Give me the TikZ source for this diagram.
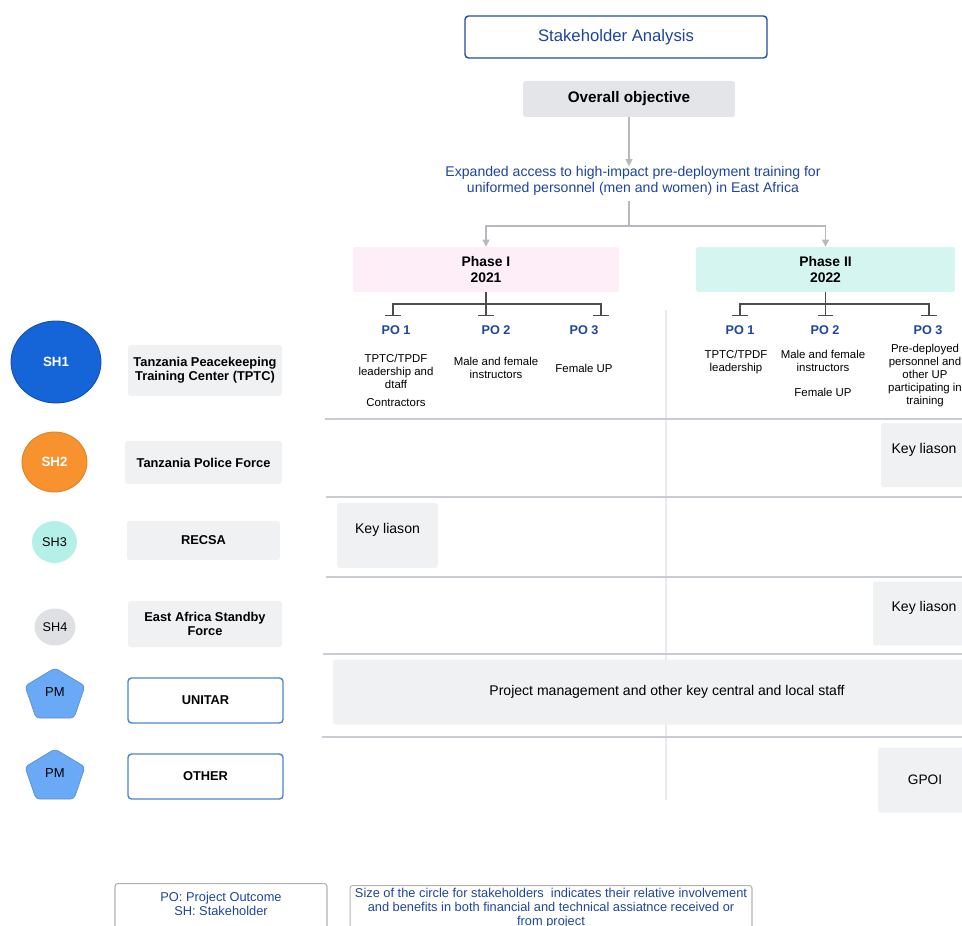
\documentclass[tikz,border=0pt]{standalone}
\usepackage{fontspec}
\setmainfont{Liberation Sans}
\usetikzlibrary{positioning,arrows.meta,shapes.geometric}

\definecolor{titleblue}{HTML}{1F4EA6}
\definecolor{textblue}{HTML}{1C45A0}
\definecolor{boxgray}{HTML}{F0F1F3}
\definecolor{objgray}{HTML}{E3E5E9}
\definecolor{phasepink}{HTML}{FDEEF8}
\definecolor{phasecyan}{HTML}{D5F6F0}
\definecolor{shblue}{HTML}{1565D8}
\definecolor{shorange}{HTML}{F7922F}
\definecolor{shcyan}{HTML}{B5F0E8}
\definecolor{shgray}{HTML}{DEE0E4}
\definecolor{pmblue}{HTML}{6AA9F6}
\definecolor{orgblue}{HTML}{4A85D0}
\definecolor{rulegray}{HTML}{C9CDD3}
\definecolor{linkgray}{HTML}{B5B8BE}

\newcommand\fsz[2]{\fontsize{#1}{#2}\selectfont}

\begin{document}
\begin{tikzpicture}[x=0.02cm,y=-0.02cm,>={Triangle[width=4pt,length=4pt]},
  titlebox/.style={draw=titleblue,line width=0.8pt,rounded corners=2pt,text=textblue,font=\fsz{9.5}{11}},
  graybox/.style={fill=boxgray,rounded corners=1.5pt,align=center,inner sep=0pt},
  phasebox/.style={rounded corners=1.5pt,align=center,inner sep=0pt,font=\bfseries\fsz{7.9}{8.6}},
  po/.style={text=textblue,font=\bfseries\fsz{7.2}{8.4},inner sep=0pt},
  cell/.style={font=\fsz{6.5}{7.4},align=center,inner sep=0pt},
  shlabel/.style={graybox,font=\bfseries\fsz{7.3}{8}},
  orgbox/.style={draw=orgblue,line width=0.8pt,rounded corners=2pt,fill=white,inner sep=0pt,font=\bfseries\fsz{7.3}{8}},
  keybox/.style={graybox,font=\fsz{8}{9.6},text depth=0.28cm},
  shnode/.style={ellipse,inner sep=0pt,line width=0.5pt},
  pmshape/.style={fill=pmblue,draw=pmblue!85!black,line width=0.4pt,rounded corners=2pt},
  link/.style={draw=linkgray,line width=0.6pt},
  tree/.style={draw=black!70,line width=0.7pt},
  rowline/.style={draw=rulegray,line width=1.1pt},
  legbox/.style={draw=black!30,line width=0.6pt,rounded corners=1.5pt,inner sep=0pt},
  legtext/.style={text=textblue,font=\fsz{7.3}{7.9},align=center,inner sep=0pt}]

\useasboundingbox (0,0) rectangle (962,925);

% header and objective
\node[titlebox, minimum width=6.04cm, minimum height=0.84cm] (title) at (616,37) {Stakeholder Analysis};
\node[graybox, fill=objgray, font=\bfseries\fsz{8.7}{10}, minimum width=4.24cm, minimum height=0.72cm] (obj) at (629,99) {Overall objective};
\node[text=textblue, font=\fsz{8}{9}, align=center, inner sep=0pt] (goal) at (633,181)
  {Expanded access to high-impact pre-deployment training for\\uniformed personnel (men and women) in East Africa};
\draw[link,->] (obj) -- (obj |- goal.north);

\node[phasebox, fill=phasepink, minimum width=5.32cm, minimum height=0.9cm] (ph1) at (486,269.5) {Phase I\\2021};
\node[phasebox, fill=phasecyan, minimum width=5.18cm, minimum height=0.9cm] (ph2) at (825.5,269.5) {Phase II\\2022};

\coordinate (fork) at (629,226);
\draw[link] ([yshift=-3pt]goal.south -| obj) -- (fork);
\draw[link,->] (fork) -| (ph1);
\draw[link,->] (fork) -| (ph2);

% outcome trees
\coordinate (j1) at (486,304);
\coordinate (j2) at (825.5,304);
\coordinate (s11) at (393,316);
\coordinate (s12) at (486,316);
\coordinate (s13) at (601,316);
\coordinate (s21) at (740,316);
\coordinate (s22) at (825.5,316);
\coordinate (s23) at (929,316);
\draw[tree] (ph1) -- (j1);
\draw[tree] (ph2) -- (j2);
\foreach \s in {s11,s12,s13}
  \draw[tree,-{Bar[width=9pt]}] (j1) -| (\s);
\foreach \s in {s21,s22,s23}
  \draw[tree,-{Bar[width=9pt]}] (j2) -| (\s);

\node[po] (p11) at (396,330) {PO 1};
\node[po] (p12) at (496,330) {PO 2};
\node[po] (p13) at (584,330) {PO 3};
\node[po] (p21) at (740,330) {PO 1};
\node[po] (p22) at (825,330) {PO 2};
\node[po] (p23) at (928,330) {PO 3};

\node[cell] (c11) at (396,371.5) {TPTC/TPDF\\leadership and\\dtaff};
\node[cell] (c11b) at (396,403) {Contractors};
\node[cell] (c12) at (496,368) {Male and female\\instructors};
\node[cell] (c13) at (584,368) {Female UP};
\node[cell] (c21) at (736,362.5) {TPTC/TPDF\\leadership};
\node[cell] (c22) at (823,360.5) {Male and female\\instructors};
\node[cell] (c22b) at (823,392) {Female UP};
\node[cell] (c23) at (925,375.5) {Pre-deployed\\personnel and\\other UP\\participating in\\training};

% table rules
\draw[draw=black!8,line width=0.6pt] (666,310) -- (666,800);
\foreach \y/\x in {419/325,497/326,577/326,654/323,737/322}
  \draw[rowline] (\x,\y) -- (962,\y);

\node[keybox, minimum width=1.72cm, minimum height=1.28cm] (kl2) at (924,455) {Key liason};
\node[keybox, minimum width=2.02cm, minimum height=1.3cm] (kl3) at (387.5,535.5) {Key liason};
\node[keybox, minimum width=2.04cm, minimum height=1.28cm] (kl4) at (924,613.5) {Key liason};
\node[graybox, font=\fsz{8}{9.6}, minimum width=13.36cm, minimum height=1.3cm] (pmrow) at (667,692) {Project management and other key central and local staff};
\node[graybox, font=\fsz{7.8}{9}, minimum width=1.88cm, minimum height=1.3cm] (gpoi) at (925,780) {GPOI};

% stakeholders
\node[shnode, fill=shblue, draw=shblue!80!black, text=white, font=\bfseries\fsz{7.6}{9}, minimum width=1.8cm, minimum height=1.64cm] (sh1) at (56,362) {SH1};
\node[shnode, fill=shorange, draw=shorange!90!black, text=white, font=\bfseries\fsz{7.6}{9}, minimum width=1.3cm, minimum height=1.2cm] (sh2) at (54.5,462) {SH2};
\node[shnode, fill=shcyan, font=\fsz{7.2}{8.6}, minimum width=0.9cm, minimum height=0.84cm] (sh3) at (54.5,542) {SH3};
\node[shnode, fill=shgray, font=\fsz{7.2}{8.6}, minimum width=0.82cm, minimum height=0.74cm] (sh4) at (55,627) {SH4};
\foreach \t/\n in {668/pm1,749/pm2}{
  \filldraw[pmshape] (55,\t) -- (85,\t+18) -- (74,\t+50) -- (36,\t+50) -- (25,\t+18) -- cycle;
  \node[font=\fsz{7.4}{8.6}, inner sep=0pt] (\n) at (55,\t+24) {PM};
}

\node[shlabel, minimum width=3.08cm, minimum height=1.02cm] (l1) at (205,370.5) {Tanzania Peacekeeping\\Training Center (TPTC)};
\node[shlabel, minimum width=3.14cm, minimum height=0.86cm] (l2) at (203.5,462.5) {Tanzania Police Force};
\node[shlabel, minimum width=3.06cm, minimum height=0.78cm] (l3) at (203.5,540.5) {RECSA};
\node[shlabel, minimum width=3.08cm, minimum height=0.92cm] (l4) at (205,624) {East Africa Standby\\Force};
\node[orgbox, minimum width=3.1cm, minimum height=0.9cm] (l5) at (205.5,700.5) {UNITAR};
\node[orgbox, minimum width=3.1cm, minimum height=0.9cm] (l6) at (205.5,776.5) {OTHER};

% legend
\node[legbox, minimum width=4.24cm, minimum height=1.2cm, anchor=north] (leg1) at (221,883) {};
\node[legtext, anchor=north] (legt1) at (221,892) {PO: Project Outcome\\SH: Stakeholder};
\node[legbox, minimum width=8.04cm, minimum height=1.2cm, anchor=north] (leg2) at (551,885) {};
\node[legtext, anchor=north] (legt2) at (551,888)
  {Size of the circle for stakeholders\ \ indicates their relative involvement\\and benefits in both financial and technical assiatnce received or\\from project};

\end{tikzpicture}
\end{document}
